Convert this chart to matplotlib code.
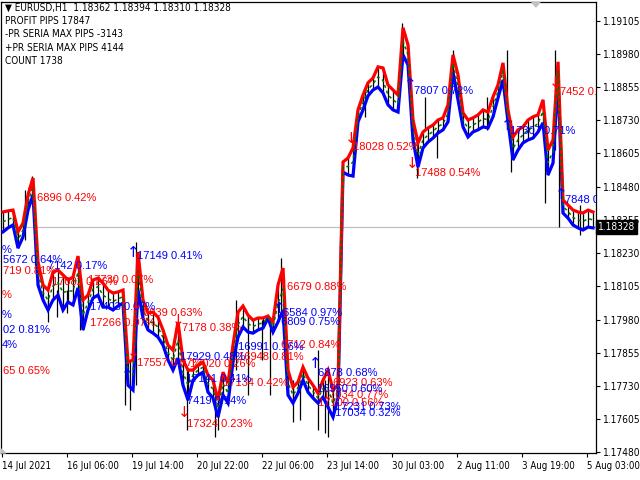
import matplotlib
matplotlib.use("Agg")
import matplotlib.pyplot as plt
import numpy as np

# ---------------- data (EURUSD H1, sampled every ~2 bars) ----------------
red_line = [1.18385, 1.18389, 1.18392, 1.18310, 1.18343, 1.18449, 1.18513, 1.18197, 1.18110, 1.18091,
            1.18159, 1.18166, 1.18148, 1.18129, 1.18140, 1.18219, 1.18054, 1.18072, 1.18129, 1.18136,
            1.18117, 1.18091, 1.18080, 1.18084, 1.18091, 1.17820, 1.17828, 1.18234, 1.18054, 1.18005,
            1.18008, 1.17989, 1.17941, 1.17884, 1.17865, 1.17971, 1.17828, 1.17790, 1.17790, 1.17809,
            1.17820, 1.17771, 1.17752, 1.17677, 1.17782, 1.17741, 1.17884, 1.18008, 1.18031, 1.17997,
            1.17978, 1.17986, 1.17986, 1.17993, 1.17971, 1.18110, 1.18174, 1.17790, 1.17726, 1.17745,
            1.17801, 1.17760, 1.17733, 1.17703, 1.17752, 1.17790, 1.17715, 1.17733, 1.18573, 1.18588,
            1.18626, 1.18769, 1.18825, 1.18871, 1.18889, 1.18931, 1.18927, 1.18863, 1.18844, 1.18825,
            1.19078, 1.19014, 1.18731, 1.18645, 1.18686, 1.18701, 1.18712, 1.18731, 1.18739, 1.18788,
            1.18976, 1.18901, 1.18758, 1.18731, 1.18739, 1.18750, 1.18769, 1.18761, 1.18818, 1.18863,
            1.18946, 1.18769, 1.18667, 1.18694, 1.18705, 1.18731, 1.18743, 1.18750, 1.18807, 1.18618,
            1.18656, 1.18950, 1.18430, 1.18411, 1.18392, 1.18385, 1.18381, 1.18392, 1.18385]
blue_line = [1.18310, 1.18325, 1.18336, 1.18249, 1.18291, 1.18392, 1.18449, 1.18110, 1.18054, 1.18016,
             1.18054, 1.18072, 1.18016, 1.18046, 1.18035, 1.18099, 1.17941, 1.18016, 1.18061, 1.18072,
             1.18027, 1.18027, 1.18016, 1.18031, 1.18042, 1.17733, 1.17715, 1.18091, 1.17986, 1.17941,
             1.17929, 1.17914, 1.17884, 1.17828, 1.17790, 1.17835, 1.17733, 1.17677, 1.17752, 1.17771,
             1.17782, 1.17707, 1.17685, 1.17613, 1.17696, 1.17666, 1.17820, 1.17914, 1.17952, 1.17933,
             1.17929, 1.17941, 1.17948, 1.17986, 1.17933, 1.17971, 1.18016, 1.17696, 1.17666, 1.17703,
             1.17752, 1.17707, 1.17685, 1.17666, 1.17688, 1.17651, 1.17613, 1.17685, 1.18535, 1.18524,
             1.18520, 1.18724, 1.18769, 1.18822, 1.18844, 1.18855, 1.18833, 1.18788, 1.18769, 1.18761,
             1.18976, 1.18938, 1.18656, 1.18554, 1.18626, 1.18648, 1.18663, 1.18682, 1.18694, 1.18724,
             1.18912, 1.18807, 1.18705, 1.18667, 1.18686, 1.18694, 1.18705, 1.18701, 1.18743, 1.18814,
             1.18882, 1.18724, 1.18581, 1.18618, 1.18645, 1.18656, 1.18663, 1.18686, 1.18720, 1.18524,
             1.18569, 1.18882, 1.18381, 1.18362, 1.18336, 1.18325, 1.18317, 1.18328, 1.18325]

# long bar wicks (bar position, high, low)
wick_pos = [4.4, 5.8, 6.4, 9.0, 10.8, 12.8, 15.4, 24.4, 25.4, 26.6, 36.8, 42.4, 43.0, 46.6, 49.0,
            51.8, 53.4, 55.6, 58.0, 59.4, 63.0, 64.4, 65.0, 72.4, 79.8, 82.8, 84.4, 86.8, 90.0,
            96.8, 100.8, 101.6, 108.4, 110.4, 111.2, 115.4]
wick_high = [1.18468, 1.18520, 1.18430, 1.18054, 1.18091, 1.18091, 1.18185, 1.17903, 1.17828, 1.18272,
             1.17790, 1.17715, 1.17677, 1.18054, 1.17997, 1.17978, 1.17978, 1.18212, 1.17752, 1.17733,
             1.17865, 1.17752, 1.17715, 1.18855, 1.19096, 1.18656, 1.18818, 1.18694, 1.18995, 1.18818,
             1.18995, 1.18731, 1.18656, 1.18995, 1.18807, 1.18411]
wick_low = [1.18279, 1.18430, 1.18185, 1.17971, 1.17989, 1.18005, 1.17941, 1.17658, 1.17639, 1.17733,
            1.17564, 1.17538, 1.17564, 1.17790, 1.17696, 1.17828, 1.17696, 1.18016, 1.17594, 1.17602,
            1.17564, 1.17553, 1.17538, 1.18743, 1.18957, 1.18513, 1.18694, 1.18588, 1.18901, 1.18694,
            1.18807, 1.18535, 1.18419, 1.18618, 1.18328, 1.18298]

current_price = 1.18328
price_ticks = [1.17480, 1.17605, 1.17730, 1.17855, 1.17980, 1.18105, 1.18230,
               1.18355, 1.18480, 1.18605, 1.18730, 1.18855, 1.18980, 1.19105]
time_labels = ["14 Jul 2021", "16 Jul 06:00", "19 Jul 14:00", "20 Jul 22:00", "22 Jul 06:00",
               "23 Jul 14:00", "30 Jul 03:00", "2 Aug 11:00", "3 Aug 19:00", "5 Aug 03:00"]

header_lines = ["\u25BC EURUSD,H1  1.18362 1.18394 1.18310 1.18328",
                "PROFIT PIPS 17847",
                "-PR SERIA MAX PIPS -3143",
                "+PR SERIA MAX PIPS 4144",
                "COUNT 1738"]

# signal labels: (bar position, price, text, colour)
label_pos = [6.8, 0.0, -0.2, 0.0, 9.8, 17.0, 17.4, 28.0, 35.8, 26.8, 37.4, 44.0, 36.8, 47.0, 55.6,
             56.8, 66.0, 64.0, 63.0, 70.0, 82.4, 111.4,
             -0.2, 0.0, 9.0, -0.2, 0.0, -0.2, 17.4, 26.8, 35.4, 36.6, 36.8, 47.0, 56.0, 55.6,
             63.0, 62.8, 66.4, 66.4, 82.2, 101.4, 112.4]
label_price = [1.18438, 1.18163, 1.18072, 1.17786, 1.18121, 1.18129, 1.17967, 1.18005, 1.17948,
               1.17816, 1.17813, 1.17741, 1.17587, 1.17839, 1.17884, 1.18102, 1.17741, 1.17696,
               1.17666, 1.18630, 1.18532, 1.18837,
               1.18242, 1.18204, 1.18182, 1.17997, 1.17941, 1.17884, 1.18027, 1.18219, 1.17839,
               1.17756, 1.17673, 1.17877, 1.18005, 1.17971, 1.17779, 1.17718, 1.17651, 1.17628,
               1.18840, 1.18690, 1.18430]
label_text = ["6896 0.42%", "719 0.81%", "%", "65 0.65%", "17082 0.26%", "17730 0.07%",
              "17266 0.07%", "6939 0.63%", "7178 0.38%", "17557 0.07%", "17020 0.26%",
              "17134 0.42%", "17324 0.23%", "16948 0.81%", "6712 0.84%", "6679 0.88%",
              "6923 0.63%", "17034 0.77%", "17100 0.56%", "18028 0.52%", "17488 0.54%",
              "7452 0.62%",
              "%", "5672 0.64%", "7142 0.17%", "%", "02 0.81%", "4%", "17403 0.07%",
              "17149 0.41%", "17929 0.48%", "17141 0.41%", "7419 0.14%", "16991 0.16%",
              "6584 0.97%", "6809 0.75%", "6878 0.68%", "16950 0.60%", "17231 0.73%",
              "17034 0.32%", "7807 0.72%", "17307 0.71%", "7848 0.58%"]
label_color = ["red"] * 22 + ["blue"] * 21

# signal arrows: (bar position, price, direction)
arrow_pos = [5.6, 26.0, 26.6, 35.0, 36.2, 55.8, 69.6, 81.8, 110.4,
             26.0, 24.8, 55.2, 62.4, 81.4, 100.8, 111.6]
arrow_price = [1.18479, 1.17858, 1.18035, 1.17978, 1.17632, 1.18136, 1.18663, 1.18569, 1.18871,
               1.18234, 1.17771, 1.18023, 1.17816, 1.18863, 1.18712, 1.18449]
arrow_dir = ["down"] * 9 + ["up"] * 7

# ---------------- figure ----------------
W, H = 640, 480
fig = plt.figure(figsize=(6.4, 4.8), dpi=100)
fig.patch.set_facecolor("white")
ax = fig.add_axes([1 / W, 27 / H, 595 / W, 451 / H])
ax.set_facecolor("white")

x = np.arange(len(red_line))
red = np.array(red_line)
blue = np.array(blue_line)
mid = (red + blue) / 2.0  # indicator middle line

ax.axhline(current_price, color="#c0c0c0", lw=0.9, zorder=1)
ax.vlines(x, blue, red, color="black", lw=0.9, zorder=2)
ax.vlines(wick_pos, wick_low, wick_high, color="black", lw=0.9, zorder=2)
ax.plot(x, blue, color="#0000ff", lw=2.3, zorder=3, solid_joinstyle="miter")
ax.plot(x, red, color="#ff0000", lw=2.3, zorder=4, solid_joinstyle="miter")
ax.plot(x, mid, color="#007000", lw=1.1, ls=(0, (2, 2)), zorder=5)

lab_font = ["Liberation Sans", "DejaVu Sans"]
for px, pp, tt, cc in zip(label_pos, label_price, label_text, label_color):
    ax.text(px, pp, tt, color=cc, fontsize=8, family=lab_font, ha="left", va="center",
            zorder=6, clip_on=True)
for px, pp, dd, in zip(arrow_pos, arrow_price, arrow_dir):
    glyph = "\u2193" if dd == "down" else "\u2191"
    col = "#ff0000" if dd == "down" else "#0000ff"
    ax.text(px, pp, glyph, color=col, fontsize=11, family=["DejaVu Sans"], ha="center",
            va="center", zorder=6, clip_on=True)

ax.set_xlim(-0.4, 118.6)
ax.set_ylim(1.17478, 1.19175)

axis_font = dict(family="DejaVu Sans", fontstretch="condensed")

# y axis on the right
ax.yaxis.tick_right()
ax.set_yticks(price_ticks)
ax.set_yticklabels([f"{p:.5f}" for p in price_ticks], fontsize=7.3, **axis_font)
ax.tick_params(axis="y", direction="out", length=3, width=0.8, pad=2, colors="black")

# x axis time labels
tick_px = [2 + 65 * k for k in range(len(time_labels))]
ax.set_xticks([(p - 3) / 5 for p in tick_px])
ax.set_xticklabels(time_labels, fontsize=6.9, ha="left", **axis_font)
ax.tick_params(axis="x", direction="out", length=3, width=0.8, pad=3, colors="black")

for s in ax.spines.values():
    s.set_color("black")
    s.set_linewidth(0.9)

# current price tag
ax.annotate(f"{current_price:.5f}", xy=(1.0, current_price), xycoords=("axes fraction", "data"),
            xytext=(1.5, 0), textcoords="offset points", ha="left", va="center", fontsize=7.3,
            color="white", bbox=dict(boxstyle="square,pad=0.2", fc="black", ec="black"),
            zorder=10, annotation_clip=False, **axis_font)

# header
for k, line in enumerate(header_lines):
    fig.text(5 / W, 1 - (8 + 13.2 * k) / H, line, fontsize=7.2, ha="left", va="center",
             color="black", **axis_font)

# small gray shift markers
ax.fill([0.892, 0.906, 0.899], [1.0, 1.0, 0.989], transform=ax.transAxes, color="#c0c0c0",
        zorder=7, clip_on=False)
ax.fill([0.0, 0.0, 0.008], [0.0, 0.009, 0.0], transform=ax.transAxes, color="#c0c0c0",
        zorder=7, clip_on=False)

fig.savefig("out.png", dpi=100)
